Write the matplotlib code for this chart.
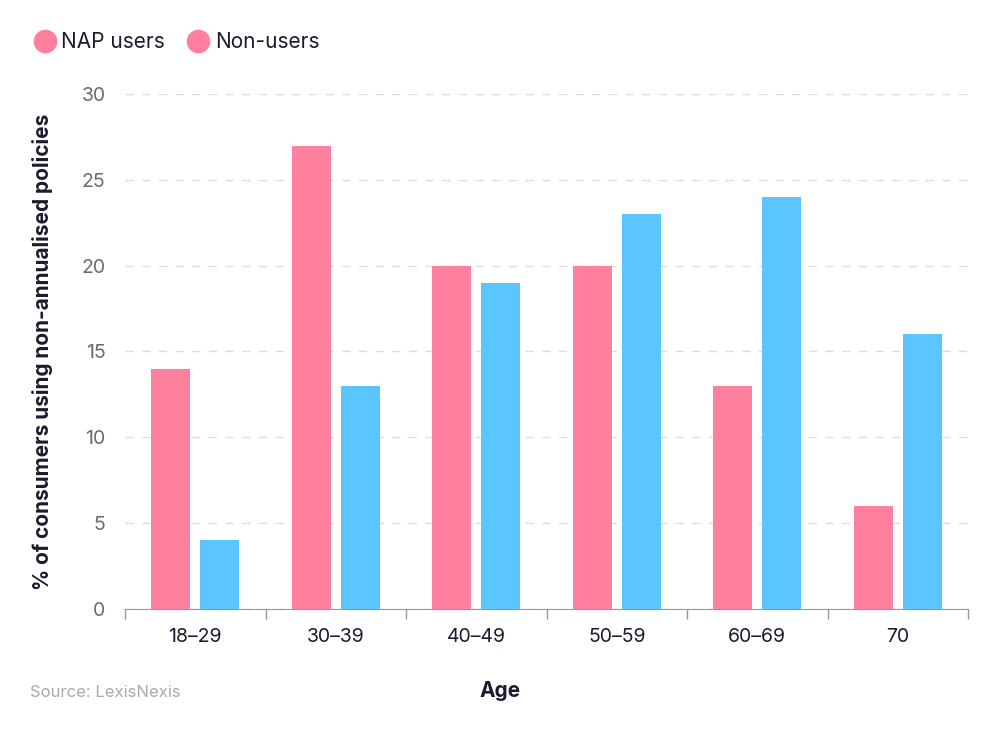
import matplotlib.pyplot as plt
import numpy as np
from matplotlib.lines import Line2D

# data
ages = ['18–29', '30–39', '40–49', '50–59', '60–69', '70']
nap_users = [14, 27, 20, 20, 13, 6]
non_users = [4, 13, 19, 23, 24, 16]

pink = '#FF7F9E'
blue = '#5BC5FF'
dark = '#1B1B2F'
grey = '#6B6B6B'

plt.rcParams['font.family'] = ['Inter', 'DejaVu Sans']

fig = plt.figure(figsize=(10, 7.3), dpi=100)
ax = fig.add_axes([0.125, 0.1658, 0.843, 0.7054])

x = np.arange(len(ages))
w = 0.278
off = 0.174
ax.bar(x - off, nap_users, width=w, color=pink, zorder=3)
ax.bar(x + off, non_users, width=w, color=blue, zorder=3)

ax.set_xlim(-0.5, len(ages) - 0.5)
ax.set_ylim(0, 30)
ax.set_yticks(range(0, 31, 5))
ax.set_xticks(x)
ax.set_xticklabels(ages, fontsize=14, color=dark)
ax.set_xticks(np.arange(-0.5, len(ages), 1), minor=True)
ax.tick_params(axis='x', which='major', length=0, pad=14)
ax.tick_params(axis='x', which='minor', length=7, color='#999999', width=1)
ax.tick_params(axis='y', length=0, labelsize=14, labelcolor=grey, pad=14)

ax.grid(axis='y', linestyle=(0, (6, 6)), color='#DDDDDD', linewidth=1, zorder=0)
for s in ['top', 'right', 'left']:
    ax.spines[s].set_visible(False)
ax.spines['bottom'].set_color('#999999')

ax.set_ylabel('% of consumers using non-annualised policies', fontsize=15,
              fontweight='bold', color=dark)
ax.yaxis.set_label_coords(-0.085, 0.5)
fig.text(0.5, 0.053, 'Age', ha='center', va='center', fontsize=15,
         fontweight='bold', color=dark)
fig.text(0.03, 0.052, 'Source: LexisNexis', ha='left', va='center',
         fontsize=12, color='#AAAAAA')

# legend (both markers pink, as in the original)
handles = [Line2D([], [], marker='o', color=pink, linestyle='none', markersize=16),
           Line2D([], [], marker='o', color=pink, linestyle='none', markersize=16)]
fig.legend(handles, ['NAP users', 'Non-users'], loc='upper left',
           bbox_to_anchor=(0.005, 0.982), ncol=2, frameon=False, fontsize=15,
           handletextpad=-0.2, columnspacing=0.6, labelcolor=dark)

fig.savefig('out.png', dpi=100, facecolor='white')
